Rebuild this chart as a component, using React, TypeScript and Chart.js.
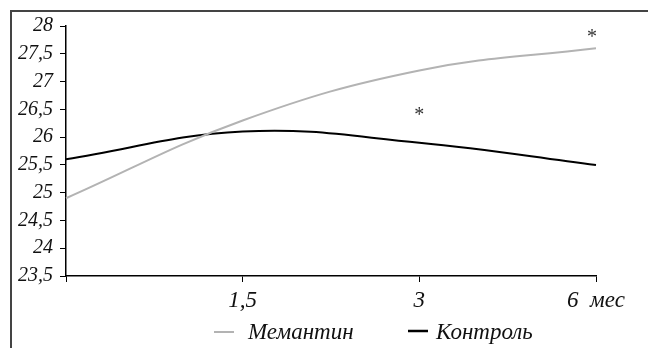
import React, { useEffect, useRef } from "react";
import { Chart, registerables } from "chart.js";

Chart.register(...registerables);

const categories = ["", "1,5", "3", "6  мес"];
const memantine = [24.9, 26.3, 27.2, 27.6];
const control = [25.6, 26.1, 25.9, 25.5];
const seriesNames = ["Мемантин", "Контроль"];
const yMin = 23.5;
const yMax = 28;
const yStep = 0.5;
const starIndex = [2, 3];
const starValues = [26.38, 27.78];

const FONT = "'Liberation Serif', 'DejaVu Serif', serif";
const GRAY = "#b3b3b3";

const overlay = {
  id: "overlay",
  afterDatasetsDraw(chart: any) {
    const { ctx, scales } = chart;
    const x = scales.x;
    const y = scales.y;
    ctx.save();
    ctx.fillStyle = "#333";
    ctx.font = `20px ${FONT}`;
    ctx.textAlign = "center";
    ctx.textBaseline = "middle";
    starIndex.forEach((i, k) => {
      const dx = i === categories.length - 1 ? -4 : 0;
      ctx.fillText("*", x.getPixelForValue(i) + dx, y.getPixelForValue(starValues[k]));
    });
    // legend
    const ly = 332;
    const by = 339;
    ctx.font = `italic 23px ${FONT}`;
    ctx.textAlign = "left";
    ctx.textBaseline = "alphabetic";
    ctx.fillStyle = "#111";
    ctx.lineWidth = 2;
    ctx.strokeStyle = GRAY;
    ctx.beginPath();
    ctx.moveTo(214, ly);
    ctx.lineTo(234, ly);
    ctx.stroke();
    ctx.fillText(seriesNames[0], 248, by);
    ctx.strokeStyle = "#000";
    ctx.lineWidth = 2.5;
    ctx.beginPath();
    ctx.moveTo(408, ly - 1);
    ctx.lineTo(428, ly - 1);
    ctx.stroke();
    ctx.fillText(seriesNames[1], 436, by);
    ctx.restore();
  },
};

export default function App() {
  const ref = useRef<HTMLCanvasElement>(null);
  useEffect(() => {
    document.body.style.margin = "0";
    const chart = new Chart(ref.current!, {
      type: "line",
      data: {
        labels: categories,
        datasets: [
          {
            label: seriesNames[0],
            data: memantine,
            borderColor: GRAY,
            borderWidth: 2,
            pointRadius: 0,
            tension: 0.4,
            fill: false,
          },
          {
            label: seriesNames[1],
            data: control,
            borderColor: "#000",
            borderWidth: 2,
            pointRadius: 0,
            tension: 0.4,
            fill: false,
          },
        ],
      },
      options: {
        responsive: false,
        animation: false,
        layout: { padding: { left: 0, top: 26, right: 52, bottom: 32 } },
        plugins: { legend: { display: false }, tooltip: { enabled: false } },
        scales: {
          x: {
            offset: false,
            grid: {
              display: true,
              drawOnChartArea: false,
              drawTicks: true,
              tickLength: 6,
              color: "#000",
              offset: false,
            },
            border: { display: true, color: "#000", width: 1.5 },
            ticks: {
              color: "#111",
              padding: 5,
              maxRotation: 0,
              autoSkip: false,
              font: { family: FONT, size: 23, style: "italic" },
            },
            afterFit: (s: any) => {
              s.height = 40;
            },
          },
          y: {
            min: yMin,
            max: yMax,
            grid: {
              display: true,
              drawOnChartArea: false,
              drawTicks: true,
              tickLength: 6,
              color: "#000",
            },
            border: { display: true, color: "#000", width: 1.5 },
            ticks: {
              stepSize: yStep,
              color: "#111",
              padding: 7,
              font: { family: FONT, size: 20, style: "italic" },
              callback: (v: any) => String(v).replace(".", ","),
            },
            afterFit: (s: any) => {
              s.width = 66;
            },
          },
        },
      },
      plugins: [overlay],
    });
    return () => chart.destroy();
  }, []);
  return (
    <div style={{ position: "relative", width: 648, height: 348, overflow: "hidden", background: "#fff" }}>
      <canvas ref={ref} width={648} height={348} style={{ display: "block" }} />
      <div
        style={{
          position: "absolute",
          left: 10,
          top: 10,
          width: 700,
          height: 400,
          border: "2px solid #444",
          pointerEvents: "none",
        }}
      />
    </div>
  );
}
